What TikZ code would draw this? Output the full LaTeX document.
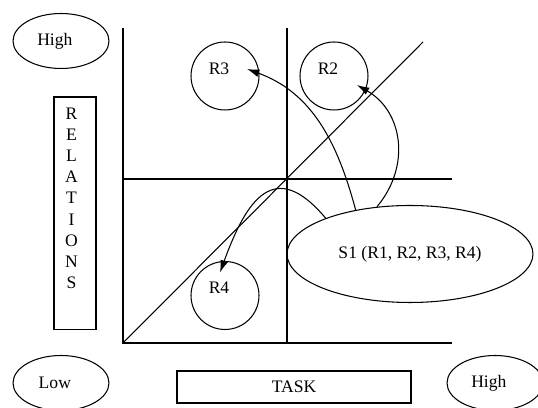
\documentclass[tikz,border=0pt]{standalone}
\usepackage{fontspec}
\setmainfont{Liberation Serif}
\usetikzlibrary{shapes,arrows,arrows.meta}
\tikzstyle{level} = [ellipse, draw, minimum width=1.92cm, minimum height=1.1cm, execute at end node={\hspace{7pt}}]
\tikzstyle{role} = [circle, draw, minimum size=1.36cm, inner sep=0pt,
    text height=6.8pt, text depth=9pt, execute at end node={\hspace{6.8pt}}]
\tikzstyle{board} = [rectangle, draw, inner sep=0pt]
\tikzstyle{line} = [draw, -{Latex[length=7pt,width=4.5pt]}]

\begin{document}
\begin{tikzpicture}[x=0.02cm, y=0.02cm, line width=0.6pt]
	\useasboundingbox (0,0) rectangle (538,408);
	
		% axes and quadrants
		\coordinate (origin) at (123,65);
		\coordinate (top) at (123,380);
		\coordinate (right) at (452,65);
		\coordinate (midtop) at (287,380);
		\coordinate (midbottom) at (287,65);
		\coordinate (midleft) at (123,229);
		\coordinate (midright) at (452,229);
		\coordinate (diag) at (423,366);
		\draw (top) -- (origin) -- (right);
		\draw (midtop) -- (midbottom);
		\draw (midleft) -- (midright);
		\draw (origin) -- (diag);
		
		\node [level] (relhigh) at (61,367) {High};
		\node [level] (rellow) at (61,25) {Low};
		\node [level] (taskhigh) at (495,25) {High};
		
		\node [board, minimum width=0.84cm, minimum height=4.66cm] (relations) at (75,194.5) {};
		\node [anchor=north, align=center, yshift=-3pt, xshift=-2pt] (relationstext) at (relations.north) {R\\E\\L\\A\\T\\I\\O\\N\\S};
		\node [board, minimum width=4.68cm, minimum height=0.64cm] (task) at (294,21) {TASK};
		
		\node [role] (R3) at (225,332) {R3};
		\node [role] (R2) at (334,332) {R2};
		\node [role] (R4) at (225,112.5) {R4};
		\node [ellipse, draw, minimum width=4.92cm, minimum height=1.94cm] (S1) at (410,154) {S1 (R1, R2, R3, R4)};
		
		\path [line] (S1.141) to[out=105, in=-20] ([shift={(22,7)}]R3.center);
		\path [line] (S1.125) to[out=50, in=-30, looseness=1.1] ([shift={(23,-9)}]R2.center);
		\path [line] (S1.157) to[out=130, in=70, looseness=1.7] ([shift={(-5,23)}]R4.center);
	\end{tikzpicture}
\end{document}
